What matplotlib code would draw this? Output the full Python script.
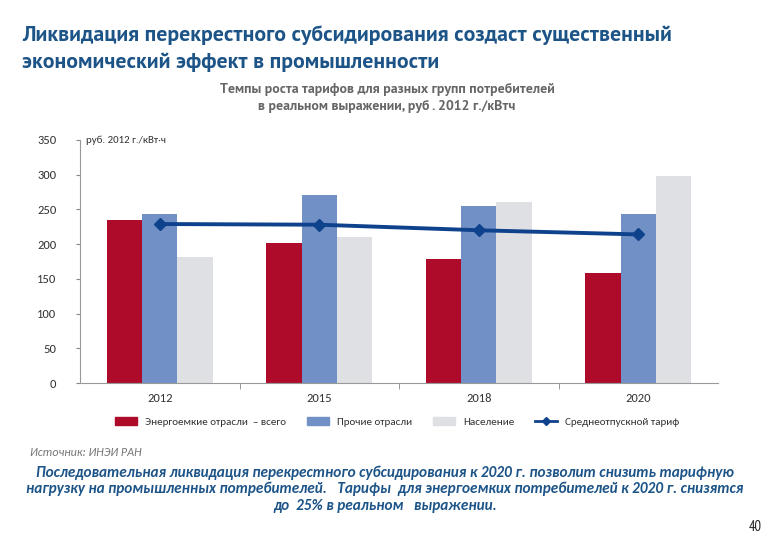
import numpy as np
import matplotlib.pyplot as plt
from matplotlib.lines import Line2D
from matplotlib.patches import Patch

plt.rcParams['font.family'] = ['Carlito', 'DejaVu Sans']
heading = ['PT Sans', 'DejaVu Sans']
narrow = ['PT Sans Narrow', 'DejaVu Sans']

years = ['2012', '2015', '2018', '2020']
energy_intensive = [235, 202, 178, 159]
other_industry = [243, 271, 255, 244]
households = [182, 210, 261, 298]
avg_tariff = [229, 228, 220, 214]

red = '#ae0b2b'
blue = '#7191c6'
grey = '#dfe0e3'
navy = '#0f428c'
title_blue = '#1d5488'

fig = plt.figure(figsize=(7.8, 5.4), dpi=100)
ax = fig.add_axes([80/780, 1-383/540, 638/780, 243/540])

x = np.arange(len(years))
w = 0.222
ax.bar(x - w, energy_intensive, w, color=red)
ax.bar(x, other_industry, w, color=blue)
ax.bar(x + w, households, w, color=grey)
ax.plot(x, avg_tariff, color=navy, lw=2.8, marker='D', ms=6, zorder=3)

ax.set_xlim(-0.5, 3.5)
ax.set_ylim(0, 350)
ax.set_yticks(range(0, 351, 50))
ax.set_xticks(x)
ax.set_xticklabels(years)
ax.set_xticks(np.arange(0.5, 3.0, 1.0), minor=True)
ax.tick_params(axis='x', which='major', length=0, pad=7, labelsize=9, colors='#333333')
ax.tick_params(axis='x', which='minor', length=4, color='#888888')
ax.tick_params(axis='y', length=3, color='#888888', labelsize=9, labelcolor='#333333', pad=14)
for s in ['top', 'right']:
    ax.spines[s].set_visible(False)
for s in ['left', 'bottom']:
    ax.spines[s].set_color('#999999')
    ax.spines[s].set_linewidth(0.8)

ax.text(0.01, 1.0, 'руб. 2012 г./кВт·ч', transform=ax.transAxes, fontsize=7.8,
        color='#333333', va='center', ha='left')

handles = [Patch(color=red), Patch(color=blue), Patch(color=grey),
           Line2D([], [], color=navy, lw=2, marker='D', ms=4)]
labels = ['Энергоемкие отрасли  – всего', 'Прочие отрасли', 'Население', 'Среднеотпускной тариф']
fig.legend(handles, labels, loc='center', bbox_to_anchor=(397/780, 1-422/540), ncol=4,
           frameon=False, fontsize=8, handlelength=2.0, handleheight=0.65,
           columnspacing=1.9, handletextpad=0.7, labelcolor='#333333')

fig.text(22/780, 1-35/540, 'Ликвидация перекрестного субсидирования создаст существенный',
         fontsize=15.7, fontweight='bold', color=title_blue, va='center', family=heading)
fig.text(22/780, 1-62/540, 'экономический эффект в промышленности',
         fontsize=15.7, fontweight='bold', color=title_blue, va='center', family=heading)
fig.text(387/780, 1-98/540,
         'Темпы роста тарифов для разных групп потребителей\nв реальном выражении, руб . 2012 г./кВтч',
         fontsize=10, fontweight='bold', color='#666666', ha='center', va='center',
         linespacing=1.4, family=heading)
fig.text(30/780, 1-452/540, 'Источник: ИНЭИ РАН', fontsize=8.7, style='italic',
         color='#777777', va='center')
fig.text(385/780, 1-489/540,
         'Последовательная ликвидация перекрестного субсидирования к 2020 г. позволит снизить тарифную\n'
         'нагрузку на промышленных потребителей.   Тарифы  для энергоемких потребителей к 2020 г. снизятся\n'
         'до  25% в реальном   выражении.',
         fontsize=11, style='italic', fontweight='bold', color=title_blue, ha='center', va='center',
         linespacing=1.2)
fig.text(762/780, 1-527/540, '40', fontsize=10.5, color='#222222', ha='right', va='center',
         family=narrow)

fig.savefig('out.png', dpi=100)
